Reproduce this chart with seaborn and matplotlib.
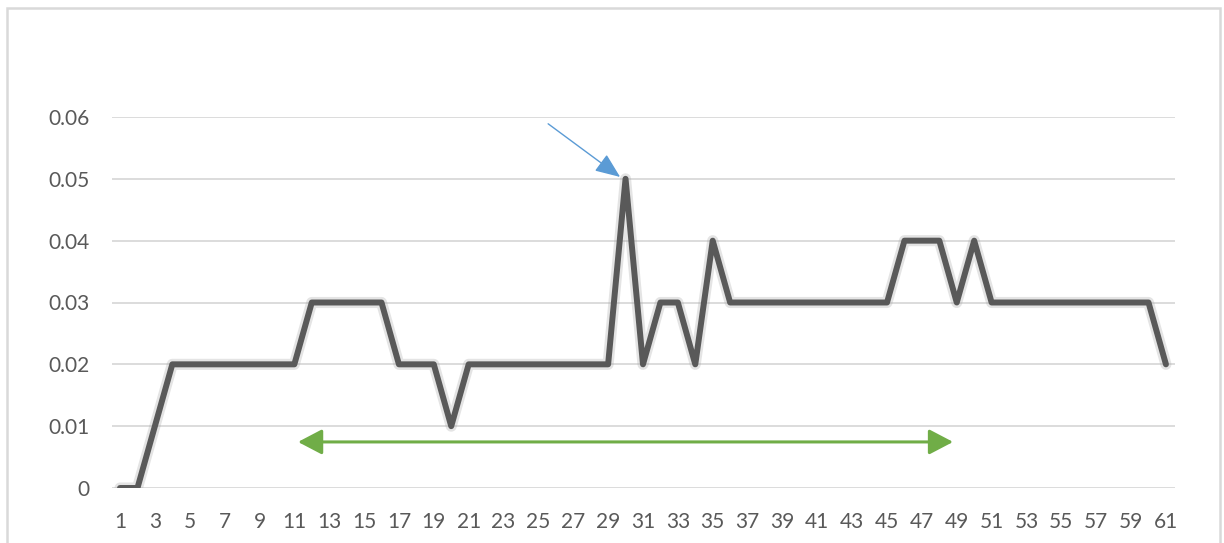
import matplotlib
matplotlib.use("Agg")
import matplotlib.pyplot as plt
import matplotlib.patheffects as pe
from matplotlib.patches import FancyArrowPatch, Rectangle
import seaborn as sns
import pandas as pd

# ---- data ----
x_values = list(range(1, 62))
y_values = [
    0, 0, 0.01, 0.02, 0.02, 0.02, 0.02, 0.02, 0.02, 0.02,   # 1-10
    0.02, 0.03, 0.03, 0.03, 0.03, 0.03, 0.02, 0.02, 0.02, 0.01,  # 11-20
    0.02, 0.02, 0.02, 0.02, 0.02, 0.02, 0.02, 0.02, 0.02, 0.05,  # 21-30
    0.02, 0.03, 0.03, 0.02, 0.04, 0.03, 0.03, 0.03, 0.03, 0.03,  # 31-40
    0.03, 0.03, 0.03, 0.03, 0.03, 0.04, 0.04, 0.04, 0.03, 0.04,  # 41-50
    0.03, 0.03, 0.03, 0.03, 0.03, 0.03, 0.03, 0.03, 0.03, 0.03,  # 51-60
    0.02,                                                       # 61
]
y_ticks = [0, 0.01, 0.02, 0.03, 0.04, 0.05, 0.06]
y_tick_labels = ["0", "0.01", "0.02", "0.03", "0.04", "0.05", "0.06"]
x_ticks = list(range(1, 62, 2))

# annotation anchors (data coords)
blue_arrow_start = (25.56, 0.0589)
blue_arrow_end = (29.69, 0.0503)
green_arrow_start = (11.21, 0.00745)
green_arrow_end = (48.79, 0.00745)

df = pd.DataFrame({"x": x_values, "y": y_values})

sns.set_style("white")
plt.rcParams["font.family"] = ["Lato", "DejaVu Sans"]

fig = plt.figure(figsize=(12.24, 5.43), dpi=100)
W, H = 1224, 543
ax = fig.add_axes([112 / W, 55 / H, (1175 - 112) / W, (488 - 117) / H])

sns.lineplot(data=df, x="x", y="y", ax=ax, color="#595959", linewidth=4.3,
             solid_joinstyle="round", solid_capstyle="round",
             path_effects=[pe.Stroke(linewidth=8, foreground="#a6a6a6", alpha=0.3),
                           pe.Normal()], zorder=3)

ax.set_xlim(0.54, 61.52)
ax.set_ylim(0, 0.06)
ax.set_yticks(y_ticks)
ax.set_yticklabels(y_tick_labels)
ax.set_xticks(x_ticks)
ax.set_xticklabels([str(v) for v in x_ticks])
ax.tick_params(axis="both", length=0, labelsize=15, labelcolor="#595959")
ax.tick_params(axis="y", pad=16)
ax.tick_params(axis="x", pad=17)
ax.set_xlabel("")
ax.set_ylabel("")
ax.grid(axis="y", color="#d9d9d9", linewidth=1.3)
ax.set_axisbelow(True)
for s in ax.spines.values():
    s.set_visible(False)

# blue arrow
blue = FancyArrowPatch(blue_arrow_start, blue_arrow_end,
                       arrowstyle="-|>,head_length=1.1,head_width=0.45",
                       mutation_scale=14, color="#5B9BD5", linewidth=1.0,
                       shrinkA=0, shrinkB=0, zorder=4)
ax.add_patch(blue)

# green double arrow
green = FancyArrowPatch(green_arrow_start, green_arrow_end,
                        arrowstyle="<|-|>,head_length=1.05,head_width=0.55",
                        mutation_scale=14, color="#70AD47", linewidth=2.2,
                        shrinkA=0, shrinkB=0, zorder=4)
ax.add_patch(green)

# outer chart frame
frame = Rectangle((7 / W, -0.05), (1220 - 7) / W, (543 - 8) / H + 0.05,
                  transform=fig.transFigure, fill=False, edgecolor="#d9d9d9",
                  linewidth=1.8, clip_on=False)
fig.patches.append(frame)

fig.savefig("out.png", dpi=100)
